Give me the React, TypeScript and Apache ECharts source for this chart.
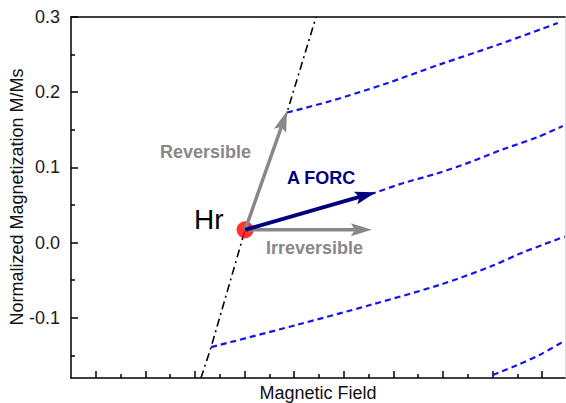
import React, { useEffect, useRef } from 'react';
import * as echarts from 'echarts';

const X_MIN = 0;
const X_MAX = 19.92;
const Y_MIN = -0.18;
const Y_MAX = 0.3;

const xMajorTicks = [1, 3, 5, 7, 9, 11, 13, 15, 17, 19];
const xMinorTicks = [2, 4, 6, 8, 10, 12, 14, 16, 18];
const yMajorTicks = [-0.1, 0, 0.1, 0.2, 0.3];
const yMinorTicks = [-0.15, -0.05, 0.05, 0.15, 0.25];

const majorBranch = [[5.24, -0.18], [5.65, -0.139], [7.02, 0.017], [8.71, 0.173], [9.88, 0.3]];
const forc1 = [[8.71, 0.173], [10.44, 0.188], [12.66, 0.211], [14.88, 0.237], [17.3, 0.264], [19.63, 0.292]];
const forc2 = [[12.06, 0.064], [13.38, 0.079], [14.76, 0.092], [16.09, 0.107], [17.41, 0.124], [18.79, 0.14], [19.83, 0.155]];
const forc3 = [[5.65, -0.139], [9.15, -0.109], [12.06, -0.083], [14.88, -0.056], [16.9, -0.032], [18.22, -0.013], [19.91, 0.008]];
const forc4 = [[17.01, -0.176], [17.98, -0.163], [18.91, -0.149], [19.83, -0.132]];

const hrPoint = [7.02, 0.017];
const reversibleTip = [8.71, 0.175];
const irreversibleTip = [12.13, 0.017];
const forcTip = [12.29, 0.067];

const FONT = 'Liberation Sans, Arial, sans-serif';

function arrowSeries(from: number[], to: number[], color: string, width: number) {
  return {
    type: 'custom',
    xAxisIndex: 0,
    yAxisIndex: 0,
    z: 5,
    data: [[from[0], from[1], to[0], to[1]]],
    renderItem: (params: any, api: any) => {
      const p0 = api.coord([api.value(0), api.value(1)]);
      const p1 = api.coord([api.value(2), api.value(3)]);
      const dx = p1[0] - p0[0];
      const dy = p1[1] - p0[1];
      const len = Math.sqrt(dx * dx + dy * dy);
      const ux = dx / len;
      const uy = dy / len;
      const nx = -uy;
      const ny = ux;
      const headLen = 21;
      const headW = 6.5;
      const notch = 4;
      const bx = p1[0] - ux * headLen;
      const by = p1[1] - uy * headLen;
      const mx = p1[0] - ux * (headLen - notch);
      const my = p1[1] - uy * (headLen - notch);
      return {
        type: 'group',
        children: [
          {
            type: 'line',
            shape: { x1: p0[0], y1: p0[1], x2: mx, y2: my },
            style: { stroke: color, lineWidth: width },
          },
          {
            type: 'polygon',
            shape: {
              points: [
                [p1[0], p1[1]],
                [bx + nx * headW, by + ny * headW],
                [mx, my],
                [bx - nx * headW, by - ny * headW],
              ],
            },
            style: { fill: color },
          },
        ],
      };
    },
  };
}

function forcSeries(data: number[][]) {
  return {
    type: 'line',
    xAxisIndex: 0,
    yAxisIndex: 0,
    data,
    symbol: 'none',
    smooth: 0.3,
    z: 3,
    lineStyle: { color: '#1414ee', width: 2.2, type: [6, 4] },
  };
}

export default function App() {
  const ref = useRef<HTMLDivElement>(null);
  useEffect(() => {
    if (!ref.current) return;
    const chart = echarts.init(ref.current, undefined, { renderer: 'svg' });
    const axisLineStyle = { color: '#000', width: 1.5 };
    chart.setOption({
      animation: false,
      grid: { left: 71, top: 17, right: 1, bottom: 25 },
      xAxis: [
        {
          type: 'value', min: X_MIN, max: X_MAX, position: 'bottom',
          axisLine: { show: true, onZero: false, lineStyle: axisLineStyle },
          axisTick: { show: true, inside: true, length: 7, customValues: xMajorTicks, lineStyle: axisLineStyle },
          axisLabel: { show: false },
          splitLine: { show: false },
        },
        {
          type: 'value', min: X_MIN, max: X_MAX, position: 'bottom',
          axisLine: { show: false, onZero: false },
          axisTick: { show: true, inside: true, length: 4, customValues: xMinorTicks, lineStyle: axisLineStyle },
          axisLabel: { show: false },
          splitLine: { show: false },
        },
        {
          type: 'value', min: X_MIN, max: X_MAX, position: 'top',
          axisLine: { show: true, onZero: false, lineStyle: axisLineStyle },
          axisTick: { show: false },
          axisLabel: { show: false },
          splitLine: { show: false },
        },
      ],
      yAxis: [
        {
          type: 'value', min: Y_MIN, max: Y_MAX, position: 'left',
          axisLine: { show: true, onZero: false, lineStyle: axisLineStyle },
          axisTick: { show: true, inside: true, length: 7, customValues: yMajorTicks, lineStyle: axisLineStyle },
          axisLabel: {
            customValues: yMajorTicks,
            formatter: (v: number) => v.toFixed(1),
            fontSize: 18, fontFamily: FONT, color: '#1a1a1a', margin: 11,
          },
          splitLine: { show: false },
        },
        {
          type: 'value', min: Y_MIN, max: Y_MAX, position: 'left',
          axisLine: { show: false, onZero: false },
          axisTick: { show: true, inside: true, length: 4, customValues: yMinorTicks, lineStyle: axisLineStyle },
          axisLabel: { show: false },
          splitLine: { show: false },
        },
        {
          type: 'value', min: Y_MIN, max: Y_MAX, position: 'right',
          axisLine: { show: true, onZero: false, lineStyle: { color: '#d9d9d9', width: 1 } },
          axisTick: { show: false },
          axisLabel: { show: false },
          splitLine: { show: false },
        },
      ],
      series: [
        {
          type: 'line',
          xAxisIndex: 0,
          yAxisIndex: 0,
          data: majorBranch,
          symbol: 'none',
          z: 2,
          lineStyle: { color: '#000', width: 1.6, type: [8, 4, 2, 4] },
        },
        forcSeries(forc1),
        forcSeries(forc2),
        forcSeries(forc3),
        forcSeries(forc4),
        {
          type: 'scatter',
          xAxisIndex: 0,
          yAxisIndex: 0,
          data: [hrPoint],
          symbol: 'circle',
          symbolSize: 17,
          z: 4,
          itemStyle: { color: '#ff0000' },
        },
        arrowSeries(hrPoint, reversibleTip, '#888888', 3.5),
        arrowSeries(hrPoint, irreversibleTip, '#888888', 3.5),
        arrowSeries(hrPoint, forcTip, '#00007f', 4),
      ],
      graphic: [
        {
          type: 'text', x: 17, y: 197, rotation: Math.PI / 2, z: 10,
          style: { text: 'Normalized Magnetization M/Ms', fontSize: 18, fontFamily: FONT, fill: '#111', align: 'center', verticalAlign: 'middle' },
        },
        {
          type: 'text', x: 318, y: 393, z: 10,
          style: { text: 'Magnetic Field', fontSize: 18, fontFamily: FONT, fill: '#111', align: 'center', verticalAlign: 'middle' },
        },
        {
          type: 'text', x: 160, y: 152, z: 10,
          style: { text: 'Reversible', fontSize: 18, fontWeight: 'bold', fontFamily: FONT, fill: '#888888', align: 'left', verticalAlign: 'middle' },
        },
        {
          type: 'text', x: 287, y: 178, z: 10,
          style: { text: 'A FORC', fontSize: 18, fontWeight: 'bold', fontFamily: FONT, fill: '#00007f', align: 'left', verticalAlign: 'middle' },
        },
        {
          type: 'text', x: 194, y: 219, z: 10,
          style: { text: 'Hr', fontSize: 28, fontFamily: FONT, fill: '#000', align: 'left', verticalAlign: 'middle' },
        },
        {
          type: 'text', x: 266, y: 248, z: 10,
          style: { text: 'Irreversible', fontSize: 18, fontWeight: 'bold', fontFamily: FONT, fill: '#888888', align: 'left', verticalAlign: 'middle' },
        },
      ],
    });
    return () => chart.dispose();
  }, []);
  return (
    <div
      ref={ref}
      style={{ position: 'fixed', left: 0, top: 0, width: 566, height: 403, background: '#fff' }}
    />
  );
}
